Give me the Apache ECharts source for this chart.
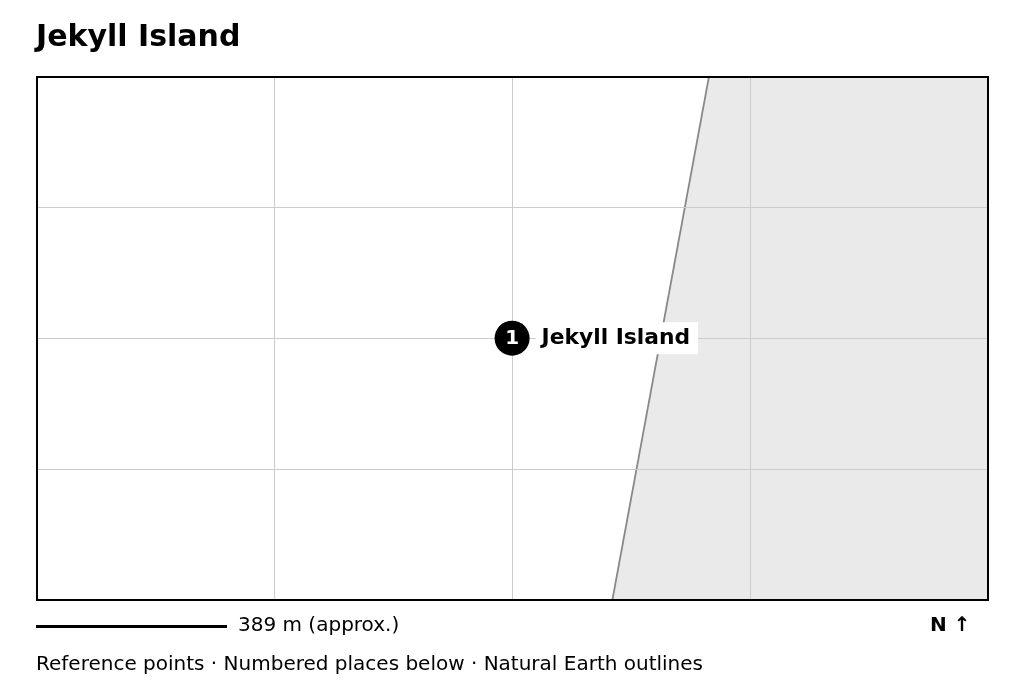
<!DOCTYPE html>
<html><head><meta charset="utf-8">
<style>html,body{margin:0;padding:0;background:#fff}#c{width:1024px;height:692px}</style>
<script src="https://cdn.jsdelivr.net/npm/echarts@6/dist/echarts.min.js"></script>
</head><body><div id="c"></div>
<script>
const titleText = 'Jekyll Island';
const placeNames = ['Jekyll Island'];
const placePoints = [[2, 2]];
const landOutline = [[2.422, 0], [2.828, 4], [4, 4], [4, 0]];
const scaleText = '389 m (approx.)';
const northText = 'N ↑';
const footerText = 'Reference points · Numbered places below · Natural Earth outlines';
const font = 'DejaVu Sans';
const chart = echarts.init(document.getElementById('c'), null, {renderer: 'canvas'});
const hiddenAxis = {
  type: 'value', min: 0, max: 4, interval: 1, z: 1,
  axisLine: {show: false}, axisTick: {show: false}, axisLabel: {show: false},
  splitLine: {show: true, lineStyle: {color: '#cccccc', width: 1}}
};
chart.setOption({
  animation: false,
  backgroundColor: '#ffffff',
  textStyle: {fontFamily: font},
  title: {text: titleText, left: 36, top: 23, padding: 0,
    textStyle: {fontFamily: font, fontSize: 30, fontWeight: 'bold', color: '#000'}},
  grid: {show: false, left: 36.6, top: 76.7, width: 951, height: 523},
  xAxis: hiddenAxis,
  yAxis: hiddenAxis,
  series: [
    {type: 'custom', z: 0, silent: true, data: [0],
      renderItem: (p, api) => ({
        type: 'polygon', silent: true,
        shape: {points: landOutline.map(d => api.coord(d))},
        style: {fill: '#eaeaea'}
      }), clip: true},
    {type: 'custom', z: 0, silent: true, data: [0],
      renderItem: (p, api) => ({
        type: 'polyline', silent: true,
        shape: {points: landOutline.slice(0, 2).map(d => api.coord(d))},
        style: {fill: 'none', stroke: '#888888', lineWidth: 1.8}
      }), clip: true},
    {type: 'scatter', z: 6, data: placePoints, symbol: 'circle', symbolSize: 35,
      itemStyle: {color: '#000', opacity: 1},
      label: {show: true, position: 'inside', offset: [0, 1], formatter: (p) => String(p.dataIndex + 1),
        fontFamily: font, fontSize: 20, fontWeight: 'bold', color: '#fff'}},
    {type: 'scatter', z: 7, data: placePoints, symbol: 'circle', symbolSize: 1,
      itemStyle: {color: 'rgba(0,0,0,0)', opacity: 1},
      label: {show: true, position: 'right', distance: 23, formatter: (p) => placeNames[p.dataIndex],
        fontFamily: font, fontSize: 21.8, fontWeight: 'bold', color: '#000', opacity: 1,
        backgroundColor: '#fff', padding: [5, 8, 5, 6]}}
  ],
  graphic: [
    {type: 'rect', z: 5, shape: {x: 37, y: 77, width: 951, height: 523},
      style: {fill: 'none', stroke: '#000', lineWidth: 2}},
    {type: 'line', shape: {x1: 36, y1: 626.5, x2: 227, y2: 626.5}, style: {stroke: '#000', lineWidth: 3}},
    {type: 'text', left: 238, top: 616, style: {text: scaleText, font: '20px "DejaVu Sans"', fill: '#000'}},
    {type: 'text', left: 930, top: 616, style: {text: northText, font: 'bold 20px "DejaVu Sans"', fill: '#000'}},
    {type: 'text', left: 36, top: 655, style: {text: footerText, font: '20px "DejaVu Sans"', fill: '#000'}}
  ]
});
</script></body></html>
